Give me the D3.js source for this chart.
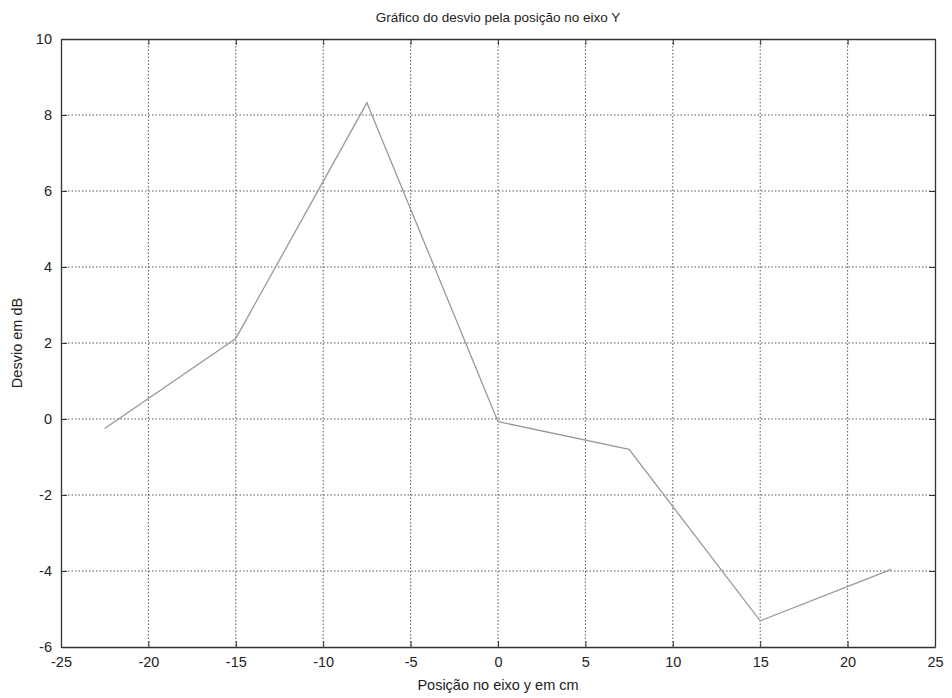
<!DOCTYPE html>
<html><head><meta charset="utf-8">
<script src="https://cdn.jsdelivr.net/npm/d3@7"></script>
<style>body{margin:0;background:#fff}svg{display:block}text{font-family:"Liberation Sans",Arial,sans-serif;fill:#222}</style>
</head><body><svg id="c" width="952" height="698"></svg>
<script>
const positions = [-22.5, -15, -7.5, 0, 7.5, 15, 22.5];
const deviations = [-0.25, 2.12, 8.32, -0.07, -0.80, -5.31, -3.96];
const xTicks = [-25, -20, -15, -10, -5, 0, 5, 10, 15, 20, 25];
const yTicks = [-6, -4, -2, 0, 2, 4, 6, 8, 10];
const titleText = "Gráfico do desvio pela posição no eixo Y";
const xLabel = "Posição no eixo y em cm";
const yLabel = "Desvio em dB";

const svg = d3.select("#c");
const L = 61, R = 935, T = 39, B = 647;
const x = d3.scaleLinear().domain([-25, 25]).range([L, R]);
const y = d3.scaleLinear().domain([-6, 10]).range([B, T]);
const fmt = d => String(d);

// grid
const g = svg.append("g");
g.selectAll(".vg").data(xTicks.slice(1, -1)).join("line")
  .attr("x1", d => x(d)).attr("x2", d => x(d)).attr("y1", T).attr("y2", B)
  .attr("stroke", "#555").attr("stroke-width", 1).attr("stroke-dasharray", "1.5,2");
g.selectAll(".hg").data(yTicks.slice(1, -1)).join("line")
  .attr("y1", d => y(d)).attr("y2", d => y(d)).attr("x1", L).attr("x2", R)
  .attr("stroke", "#555").attr("stroke-width", 1).attr("stroke-dasharray", "1.5,2");

// axes
const xa = svg.append("g").attr("transform", `translate(0,${B})`)
  .call(d3.axisBottom(x).tickValues(xTicks).tickFormat(fmt).tickSizeInner(-6).tickSizeOuter(0).tickPadding(10));
const xt = svg.append("g").attr("transform", `translate(0,${T})`)
  .call(d3.axisTop(x).tickValues(xTicks).tickSizeInner(-6).tickSizeOuter(0).tickFormat(""));
const ya = svg.append("g").attr("transform", `translate(${L},0)`)
  .call(d3.axisLeft(y).tickValues(yTicks).tickFormat(fmt).tickSizeInner(-6).tickSizeOuter(0).tickPadding(9));
const yr = svg.append("g").attr("transform", `translate(${R},0)`)
  .call(d3.axisRight(y).tickValues(yTicks).tickSizeInner(-6).tickSizeOuter(0).tickFormat(""));
[xa, xt, ya, yr].forEach(a => {
  a.selectAll("path").attr("stroke", "#333").attr("stroke-width", 1.3);
  a.selectAll("line").attr("stroke", "#333");
  a.selectAll("text").attr("font-size", 14.5).attr("fill", "#222")
    .attr("font-family", "'Liberation Sans', Arial, sans-serif");
});

// data line
const line = d3.line().x((d, i) => x(positions[i])).y(d => y(d));
svg.append("path").datum(deviations).attr("d", line)
  .attr("fill", "none").attr("stroke", "#999").attr("stroke-width", 1.3);

// labels
svg.append("text").attr("x", (L + R) / 2).attr("y", 22).attr("text-anchor", "middle")
  .attr("font-size", 13.5).text(titleText);
svg.append("text").attr("x", (L + R) / 2).attr("y", 690).attr("text-anchor", "middle")
  .attr("font-size", 14.5).text(xLabel);
svg.append("text").attr("transform", `translate(22,${(T + B) / 2}) rotate(-90)`)
  .attr("text-anchor", "middle").attr("font-size", 14.5).text(yLabel);
</script></body></html>
